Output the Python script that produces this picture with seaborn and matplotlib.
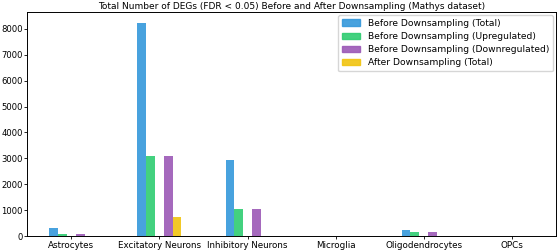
import matplotlib
matplotlib.use("Agg")
import matplotlib.pyplot as plt
import matplotlib.patches as mpatches
import seaborn as sns
import pandas as pd

categories = ["Astrocytes", "Excitatory Neurons", "Inhibitory Neurons",
              "Microglia", "Oligodendrocytes", "OPCs"]
before_total = [300, 8240, 2920, 5, 240, 10]
before_up = [90, 3080, 1060, 2, 160, 4]
before_down = [85, 3080, 1060, 3, 140, 6]
after_total = [0, 740, 15, 0, 0, 0]

series_names = ["Before Downsampling (Total)", "Before Downsampling (Upregulated)",
                "Before Downsampling (Downregulated)", "After Downsampling (Total)"]
series_values = [before_total, before_up, before_down, after_total]
colors = ["#3498db", "#2ecc71", "#9b59b6", "#f1c40f"]

rows = []
for name, vals in zip(series_names, series_values):
    for c, v in zip(categories, vals):
        rows.append({"Cell type": c, "Series": name, "DEGs": v})
df = pd.DataFrame(rows)

spacer = " "
hue_order = [series_names[0], series_names[1], spacer, series_names[2], series_names[3]]
palette = {series_names[0]: colors[0], series_names[1]: colors[1], spacer: "white",
           series_names[2]: colors[2], series_names[3]: colors[3]}

fig, ax = plt.subplots(figsize=(5.58, 2.5), dpi=100)
sns.barplot(data=df, x="Cell type", y="DEGs", hue="Series", hue_order=hue_order,
            order=categories, palette=palette, width=0.5, ax=ax, legend=False,
            saturation=1, alpha=0.9, errorbar=None)

ax.set_title("Total Number of DEGs (FDR < 0.05) Before and After Downsampling (Mathys dataset)",
             fontsize=6.45, pad=2.5)
ax.set_xlabel("")
ax.set_ylabel("")
ax.tick_params(axis="both", labelsize=6.3, length=2.2, pad=1.5, width=0.6)
ax.tick_params(axis="y", labelsize=6.1, pad=1.2)
handles = [mpatches.Patch(color=c, alpha=0.9, label=n) for n, c in zip(series_names, colors)]
ax.legend(handles=handles, loc="upper right", fontsize=6.6, frameon=True,
          handlelength=2, borderpad=0.45, labelspacing=0.45, borderaxespad=0.3)
for s in ax.spines.values():
    s.set_linewidth(0.7)
fig.subplots_adjust(left=0.049, right=0.996, top=0.952, bottom=0.056)
fig.savefig("out.png", dpi=100)
